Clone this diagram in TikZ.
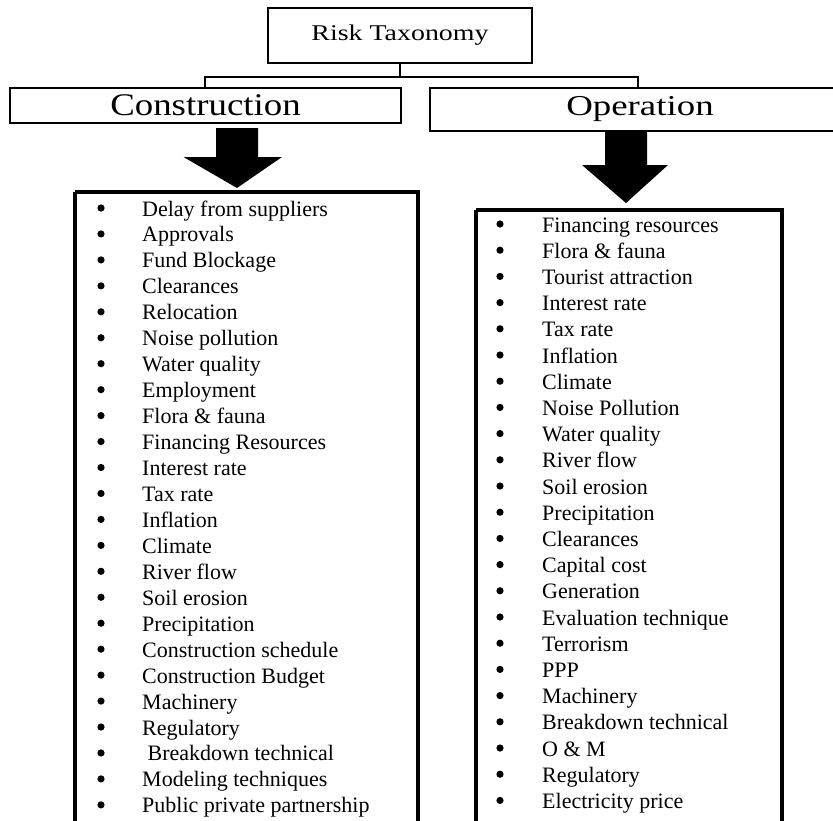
\documentclass[tikz,border=0pt]{standalone}
\usepackage{fontspec}
\setmainfont{Liberation Serif}
\usetikzlibrary{calc}

\tikzset{
  titlebox/.style={draw, line width=2.6pt, rectangle, inner sep=0pt},
  listbox/.style={draw, line width=4pt},
  link/.style={line width=2.2pt},
  bigarrow/.style={fill=black},
  item/.style={anchor=base west, inner sep=0pt, font=\fontsize{22}{26}\selectfont},
  dot/.style={fill=black}
}

\begin{document}
\begin{tikzpicture}[x=1pt, y=-1pt]
\useasboundingbox (0,0) rectangle (833,820);

% top of the taxonomy
\node[titlebox, minimum width=264pt, minimum height=55pt] (risk) at (400,35.5)
  {\scalebox{1.24}[1]{\fontsize{22.5}{27}\selectfont Risk Taxonomy}};

% the two phases
\node[titlebox, minimum width=391pt, minimum height=35pt] (cons) at (205.5,105.5)
  {\scalebox{1.17}[1]{\fontsize{31.5}{36}\selectfont Construction}};
\node[titlebox, minimum width=420pt, minimum height=43pt] (oper) at (640,109.5)
  {\scalebox{1.28}[1]{\fontsize{28.8}{34}\selectfont Operation}};

% branching connector
\coordinate (jl) at (205,77);
\coordinate (jr) at (638,77);
\draw[link] (risk.south) -- (risk.south |- jl);
\draw[link] ([xshift=-1.1pt]jl) -- ([xshift=1.1pt]jr);
\draw[link] (jl) -- (jl |- cons.north);
\draw[link] (jr) -- (jr |- oper.north);

% list frames
\draw[listbox] (75,192) coordinate (clist) -- (75,840) (75,192) -- (418,192) -- (418,840);
\draw[listbox] (476,210) coordinate (olist) -- (476,840) (476,210) -- (782,210) -- (782,840);

% block arrows from each phase down to its list
\coordinate (ca) at (237,128);
\fill[bigarrow] (ca) +(-21,0) -- +(21,0) -- +(21,29) -- +(45,29)
  -- +(0,60) -- +(-53.5,29) -- +(-21,29) -- cycle;
\coordinate (oa) at (626,131);
\fill[bigarrow] (oa) +(-21,0) -- +(21,0) -- +(21,34) -- +(42,34)
  -- +(0,72) -- +(-44,34) -- +(-21,34) -- cycle;

% construction risks
\foreach \t [count=\i] in {Delay from suppliers, Approvals, Fund Blockage,
  Clearances, Relocation, Noise pollution, Water quality, Employment,
  {Flora \& fauna}, Financing Resources, Interest rate, Tax rate, Inflation,
  Climate, River flow, Soil erosion, Precipitation, Construction schedule,
  Construction Budget, Machinery, Regulatory, {\ Breakdown technical},
  Modeling techniques, Public private partnership} {
  \node[item] (c\i) at (142,{216+(\i-1)*25.95}) {\t};
  \fill[dot] (101,{208+(\i-1)*25.95}) circle (3.6);
}

% operation risks
\foreach \t [count=\i] in {Financing resources, {Flora \& fauna},
  Tourist attraction, Interest rate, Tax rate, Inflation, Climate,
  Noise Pollution, Water quality, River flow, Soil erosion, Precipitation,
  Clearances, Capital cost, Generation, Evaluation technique, Terrorism, PPP,
  Machinery, Breakdown technical, {O \& M}, Regulatory, Electricity price} {
  \node[item] (o\i) at (542,{232+(\i-1)*26.2}) {\t};
  \fill[dot] (500,{224+(\i-1)*26.2}) circle (3.6);
}
\end{tikzpicture}
\end{document}
